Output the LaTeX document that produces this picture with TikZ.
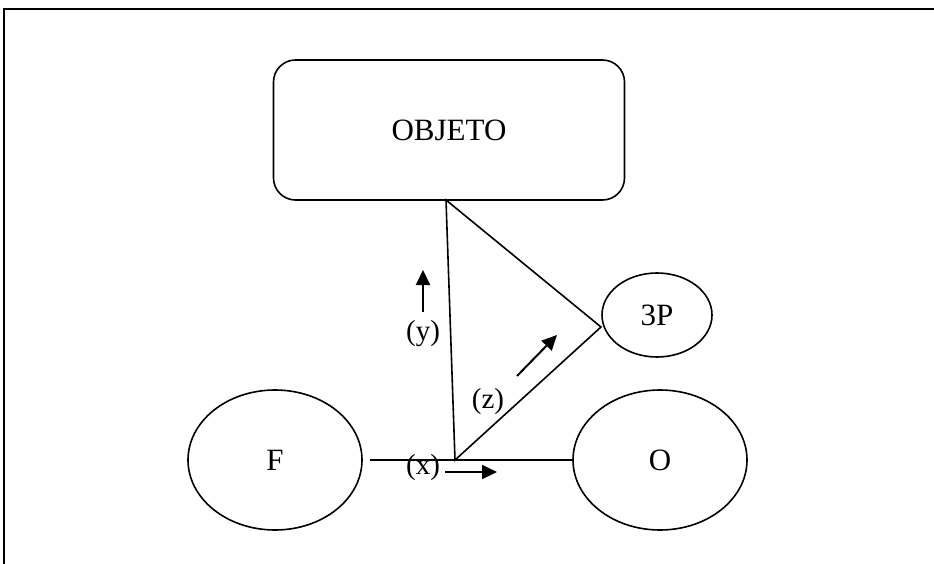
\documentclass[tikz,border=0pt]{standalone}
\usepackage{fontspec}
\setmainfont{Liberation Serif}
\usetikzlibrary{shapes.geometric,arrows.meta}
\begin{document}
\begin{tikzpicture}[x=1pt,y=-1pt,
  every node/.style={font=\fontsize{31}{36}\selectfont, inner sep=0pt},
  shapeline/.style={draw, line width=1.6pt},
  oval/.style={shapeline, ellipse},
  mover/.style={line width=2pt, -{Triangle[length=15pt,width=14pt]}},
  lab/.style={font=\fontsize{29}{34}\selectfont}]
\useasboundingbox (0,0) rectangle (934,564);
\draw[line width=1.6pt] (4,564) -- (4,9) -- (934,9);
\node[shapeline, rounded corners=22pt, minimum width=351pt, minimum height=140pt] (objeto) at (449,130) {OBJETO};
\node[oval, minimum width=110pt, minimum height=84pt] (p3) at (657,315) {3P};
\node[oval, minimum width=174pt, minimum height=140pt] (f) at (275,460) {F};
\node[oval, minimum width=174pt, minimum height=140pt] (o) at (660,460) {O};
\coordinate (tA) at (446,200);
\coordinate (tB) at (601,327);
\coordinate (tC) at (455,460);
\coordinate (ls) at (370,460);
\draw[line width=1.6pt] (tA) -- (tB) -- (tC) -- cycle;
\draw[line width=1.6pt] (ls) -- (o.west);
\coordinate (ya) at (423,312);
\coordinate (yb) at (423,270);
\coordinate (za) at (517,376);
\coordinate (zb) at (557,335);
\coordinate (xa) at (445,472);
\coordinate (xb) at (497,472);
\draw[mover] (ya) -- (yb);
\draw[mover] (za) -- (zb);
\draw[mover] (xa) -- (xb);
\node[lab] (ly) at (423,334) {(y)};
\node[lab] (lz) at (488,402) {(z)};
\node[lab] (lx) at (423,468) {(x)};
\end{tikzpicture}
\end{document}
